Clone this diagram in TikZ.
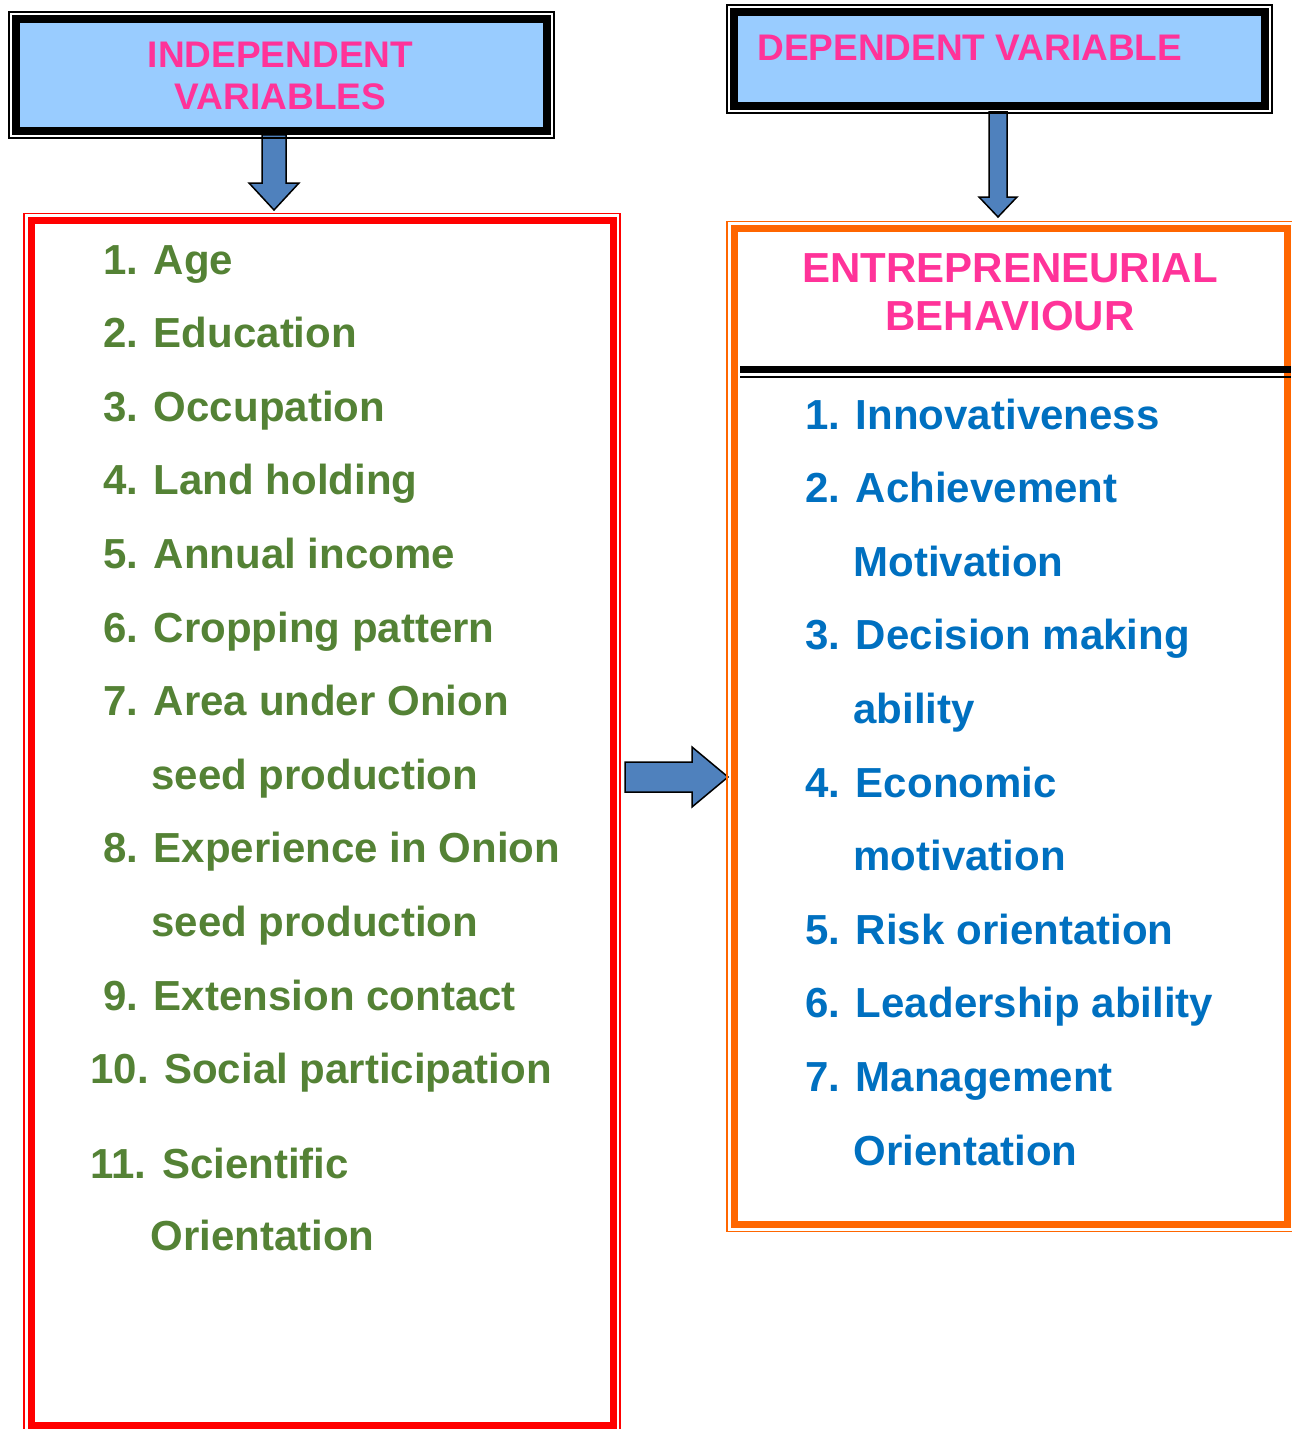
\documentclass[tikz,border=0pt]{standalone}
\usepackage{fontspec}
\setmainfont{Liberation Sans}
\usetikzlibrary{fit}

\begin{document}
\begin{tikzpicture}[x=0.5pt, y=-0.5pt,
  headbox/.style={draw=black, line width=4pt, fill=headbg, inner sep=0pt, outer sep=0pt},
  listbox/.style={line width=3.5pt, inner sep=0pt, outer sep=0pt},
  framebox/.style={draw, line width=0.75pt, inner sep=3.6pt},
  headtext/.style={text=headpink, align=center, inner sep=0pt, font=\fontsize{18.5}{21}\selectfont\bfseries},
  greenitem/.style={anchor=base west, inner sep=0pt, text=listgreen, font=\fontsize{21}{25}\selectfont\bfseries},
  blueitem/.style={anchor=base west, inner sep=0pt, text=listblue, font=\fontsize{21}{25}\selectfont\bfseries},
  blockarrow/.style={fill=arrowblue, draw=black, line width=0.75pt, line join=miter}]
\definecolor{headbg}{HTML}{99CCFF}
\definecolor{headpink}{HTML}{FF3399}
\definecolor{listgreen}{HTML}{548235}
\definecolor{listblue}{HTML}{0070C0}
\definecolor{arrowblue}{HTML}{4F81BD}
\definecolor{framered}{HTML}{FF0000}
\definecolor{frameorange}{HTML}{FF6600}
\useasboundingbox (0,0) rectangle (1291,1429);

\draw[blockarrow] (262,135) -- (286,135) -- (286,183) -- (299,183) -- (274,210) -- (249,183) -- (262,183) -- cycle;
\draw[blockarrow] (989,112) -- (1007,112) -- (1007,197) -- (1017,197) -- (998,217) -- (979,197) -- (989,197) -- cycle;
\draw[blockarrow] (625,762) -- (692,762) -- (692,747) -- (728,777) -- (692,807) -- (692,792) -- (625,792) -- cycle;

\node[headbox, minimum width=265.5pt, minimum height=56pt] (indep) at (281.5,75) {};
\node[framebox, fit=(indep)] (indepframe) {};
\node[headtext] (indeptitle) at (280.5,75.5) {INDEPENDENT\\VARIABLES};

\node[headbox, minimum width=265.5pt, minimum height=47pt] (dep) at (999.5,59) {};
\node[framebox, fit=(dep)] (depframe) {};
\node[headtext, anchor=base west] (deptitle) at (757,61) {DEPENDENT VARIABLE};

\node[listbox, draw=framered, minimum width=291pt, minimum height=602.25pt] (indeplist) at (322,822.75) {};
\node[framebox, draw=framered, fit=(indeplist)] (indeplistframe) {};

\node[listbox, draw=frameorange, minimum width=276.5pt, minimum height=498pt] (deplist) at (1010.5,726.5) {};
\node[framebox, draw=frameorange, fit=(deplist)] (deplistframe) {};

\node[headtext, font=\fontsize{21}{24}\selectfont\bfseries] (behaviour) at (1010,292) {ENTREPRENEURIAL\\BEHAVIOUR};
\draw[line width=3.5pt] (740,369.5) -- (1291,369.5);
\draw[line width=0.75pt] (740,377) -- (1291,377);

\node[greenitem] (age) at (103,274) {1. Age};
\node[greenitem] (edu) at (103,347.6) {2. Education};
\node[greenitem] (occ) at (103,421.2) {3. Occupation};
\node[greenitem] (land) at (103,494.8) {4. Land holding};
\node[greenitem] (income) at (103,568.4) {5. Annual income};
\node[greenitem] (crop) at (103,642) {6. Cropping pattern};
\node[greenitem] (area) at (103,715.6) {7. Area under Onion};
\node[greenitem] (areab) at (151,789.2) {seed production};
\node[greenitem] (exper) at (103,862.8) {8. Experience in Onion};
\node[greenitem] (experb) at (151,936.4) {seed production};
\node[greenitem] (ext) at (103,1010) {9. Extension contact};
\node[greenitem] (social) at (90,1083.6) {10. Social participation};
\node[greenitem] (sci) at (90,1178) {11. Scientific};
\node[greenitem] (scib) at (150,1250) {Orientation};

\node[blueitem] (innov) at (805,429) {1. Innovativeness};
\node[blueitem] (achv) at (805,502.6) {2. Achievement};
\node[blueitem] (achvb) at (853,576.2) {Motivation};
\node[blueitem] (decis) at (805,649.8) {3. Decision making};
\node[blueitem] (decisb) at (853,723.4) {ability};
\node[blueitem] (econ) at (805,797) {4. Economic};
\node[blueitem] (econb) at (853,870.6) {motivation};
\node[blueitem] (risk) at (805,944.2) {5. Risk orientation};
\node[blueitem] (lead) at (805,1017.8) {6. Leadership ability};
\node[blueitem] (mgmt) at (805,1091.4) {7. Management};
\node[blueitem] (mgmtb) at (853,1165) {Orientation};
\end{tikzpicture}
\end{document}
